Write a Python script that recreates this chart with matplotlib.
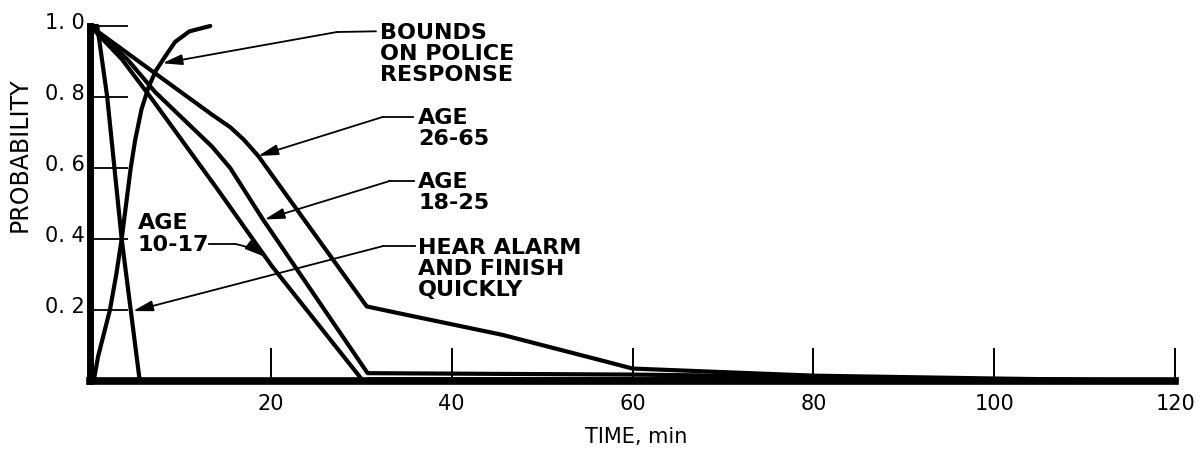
import matplotlib
matplotlib.use("Agg")
import matplotlib.pyplot as plt
import matplotlib.transforms as mtransforms

# ---- data ----
police_t = [0.4, 0.9, 1.5, 2.2, 2.9, 3.5, 4.0, 4.5, 5.0, 5.7, 6.5, 7.3, 8.2, 9.4, 11.0, 13.3]
police_p = [0.0, 0.07, 0.13, 0.20, 0.30, 0.40, 0.50, 0.60, 0.68, 0.766, 0.83, 0.875, 0.91, 0.955, 0.985, 1.0]

alarm_t = [0.0, 0.8, 1.9, 3.5, 5.5]
alarm_p = [1.0, 1.0, 0.80, 0.40, 0.0]

age1017_t = [0.0, 3.5, 6.85, 14.1, 20.1, 30.2, 31.0, 60.0, 120.0]
age1017_p = [1.0, 0.907, 0.794, 0.54, 0.324, 0.0, 0.005, 0.005, 0.0]

age1825_t = [0.0, 4.1, 7.2, 13.5, 15.5, 17.0, 19.1, 30.7, 60.0, 80.0, 100.0, 120.0]
age1825_p = [1.0, 0.907, 0.814, 0.66, 0.60, 0.54, 0.456, 0.022, 0.018, 0.012, 0.005, 0.0]

age2665_t = [0.0, 13.5, 15.5, 17.0, 18.6, 30.6, 34.3, 45.6, 57.0, 60.0, 80.0, 100.0, 120.0]
age2665_p = [1.0, 0.75, 0.715, 0.68, 0.634, 0.21, 0.19, 0.13, 0.055, 0.035, 0.015, 0.007, 0.0]

x_ticks = [20, 40, 60, 80, 100, 120]
x_ticklabels = ["20", "40", "60", "80", "100", "120"]
y_ticks = [0.2, 0.4, 0.6, 0.8, 1.0]
y_ticklabels = ["0. 2", "0. 4", "0. 6", "0. 8", "1. 0"]

x_label = "TIME, min"
y_label = "PROBABILITY"

# annotations: text, text position, leader start, elbow, arrow tip
notes = [
    ("BOUNDS\nON POLICE\nRESPONSE", (32.1, 0.924), (31.6, 0.985), (27.3, 0.983), (8.0, 0.895)),
    ("AGE\n26-65", (36.3, 0.715), (35.7, 0.744), (32.4, 0.744), (18.6, 0.634)),
    ("AGE\n18-25", (36.3, 0.534), (35.8, 0.563), (33.1, 0.563), (19.3, 0.455)),
    ("HEAR ALARM\nAND FINISH\nQUICKLY", (36.3, 0.318), (35.9, 0.380), (32.4, 0.380), (4.75, 0.197)),
]

# ---- figure ----
fig = plt.figure(figsize=(12.02, 4.52), dpi=100)
ax = fig.add_axes([0.0749, 0.1549, 0.9027, 0.7854])

lw = 3.0
for t, p in [(police_t, police_p), (alarm_t, alarm_p), (age1017_t, age1017_p),
             (age1825_t, age1825_p), (age2665_t, age2665_p)]:
    ax.plot(t, p, color="black", lw=lw, clip_on=False, solid_joinstyle="round",
            solid_capstyle="round")

ax.set_xlim(0, 120)
ax.set_ylim(0, 1.0)

for side in ("top", "right"):
    ax.spines[side].set_visible(False)
ax.spines["left"].set_linewidth(5)
ax.spines["bottom"].set_linewidth(5.5)

ax.set_xticks(x_ticks)
ax.set_xticklabels(x_ticklabels)
ax.set_yticks(y_ticks)
ax.set_yticklabels(y_ticklabels)
ax.tick_params(axis="x", direction="in", length=24, width=1.4, labelsize=15, pad=9)
ax.tick_params(axis="y", direction="in", length=27, width=1.3, labelsize=15, pad=4)

offset = mtransforms.ScaledTranslation(0, 4 / 72, fig.dpi_scale_trans)
for lbl in ax.get_yticklabels():
    lbl.set_transform(lbl.get_transform() + offset)

fig.text(636 / 1202, 1 - 437 / 452, x_label, fontsize=15, ha="center", va="center")
fig.text(20 / 1202, 1 - 155 / 452, y_label, fontsize=17, rotation=90,
         ha="center", va="center")

text_kw = dict(fontsize=16, fontweight="bold", ha="left", va="center",
               linespacing=1.08, family="DejaVu Sans")
arrow_kw = dict(arrowstyle="-|>,head_length=0.75,head_width=0.2", color="black",
                lw=1.3, shrinkA=0, shrinkB=0)

for txt, tpos, tstart, elbow, tip in notes:
    ax.text(tpos[0], tpos[1], txt, **text_kw)
    ax.plot([tstart[0], elbow[0]], [tstart[1], elbow[1]], color="black", lw=1.3)
    ax.annotate("", xy=tip, xytext=elbow, arrowprops=dict(mutation_scale=16, **arrow_kw))

# AGE 10-17 label, left side
ax.text(5.3, 0.417, "AGE\n10-17", **text_kw)
ax.plot([13.2, 16.0], [0.386, 0.386], color="black", lw=1.3)
ax.annotate("", xy=(19.3, 0.35), xytext=(16.0, 0.386),
            arrowprops=dict(mutation_scale=16, connectionstyle="arc3,rad=-0.12", **arrow_kw))

fig.savefig("out.png", dpi=100)
